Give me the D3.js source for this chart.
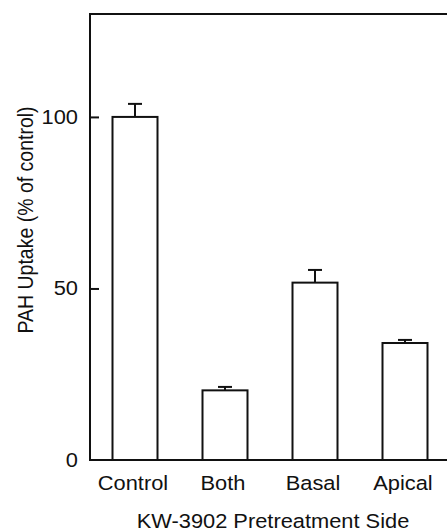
<!DOCTYPE html>
<html>
<head>
<meta charset="utf-8">
<script src="https://cdn.jsdelivr.net/npm/d3@7"></script>
<style>
  body { margin: 0; background: #fff; }
  text { font-family: "Liberation Sans", Arial, sans-serif; fill: #111; }
</style>
</head>
<body>
<svg width="447" height="531"></svg>
<script>
var categories = ["Control", "Both", "Basal", "Apical"];
var values = [100, 20.3, 51.7, 34.1];
var errors = [3.8, 1.0, 3.7, 0.9];
var yTicks = [0, 50, 100];

var svg = d3.select("svg");
var mLeft = 90, mTop = 14, mBottom = 460, mRight = 470;
var stretch = 1.12; // scanned figure is a bit wider than tall

var x = d3.scaleBand()
    .domain(categories)
    .range([mLeft, mLeft + 4 * 90])
    .paddingInner(0.5)
    .paddingOuter(0.25);

var y = d3.scaleLinear()
    .domain([0, 130])
    .range([mBottom, mTop]);

function label(g, tx, ty, str, size, anchor) {
  return g.append("text")
      .attr("transform", "translate(" + tx + "," + ty + ") scale(" + stretch + ",1)")
      .attr("text-anchor", anchor || "middle")
      .style("font-size", size + "px")
      .text(str);
}

// frame: top and left edges, bottom axis
svg.append("path")
    .attr("d", "M" + mRight + "," + mTop + "H" + mLeft + "V" + mBottom + "H" + mRight)
    .attr("fill", "none")
    .attr("stroke", "#111")
    .attr("stroke-width", 2);

// y axis ticks (pointing inward) and labels
var yAxis = svg.append("g")
    .attr("transform", "translate(" + mLeft + ",0)")
    .call(d3.axisRight(y).tickValues(yTicks).tickSize(9).tickFormat(""));
yAxis.select(".domain").remove();
yAxis.selectAll("line").attr("stroke", "#111").attr("stroke-width", 2);
yAxis.selectAll(".tick").filter(function (d) { return d === 0; }).select("line").remove();

var yl = svg.append("g");
yTicks.forEach(function (d) {
  label(yl, 78, y(d) + 7, d, 19.5, "end");
});

// bars
svg.append("g").selectAll("rect")
    .data(categories).enter().append("rect")
    .attr("x", function (d) { return x(d); })
    .attr("y", function (d, i) { return y(values[i]); })
    .attr("width", x.bandwidth())
    .attr("height", function (d, i) { return mBottom - y(values[i]); })
    .attr("fill", "#fff")
    .attr("stroke", "#111")
    .attr("stroke-width", 2);

// error bars (upper only)
var err = svg.append("g").attr("stroke", "#111").attr("stroke-width", 2);
categories.forEach(function (c, i) {
  var cx = x(c) + x.bandwidth() / 2;
  err.append("line")
      .attr("x1", cx).attr("x2", cx)
      .attr("y1", y(values[i])).attr("y2", y(values[i] + errors[i]));
  err.append("line")
      .attr("x1", cx - 7).attr("x2", cx + 7)
      .attr("y1", y(values[i] + errors[i])).attr("y2", y(values[i] + errors[i]));
});

// category labels
var cl = svg.append("g");
categories.forEach(function (c) {
  label(cl, x(c) + x.bandwidth() / 2 - 2, 490, c, 19.5);
});

// axis titles
label(svg, 273, 528, "KW-3902 Pretreatment Side", 19.5);

svg.append("text")
    .attr("transform", "translate(33,220) rotate(-90) scale(1,1.1)")
    .attr("text-anchor", "middle")
    .style("font-size", "19.5px")
    .text("PAH Uptake (% of control)");
</script>
</body>
</html>
